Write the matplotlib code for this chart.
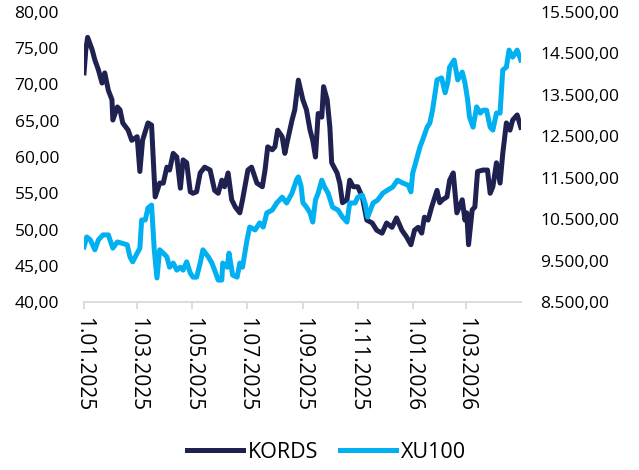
import pandas as pd
import matplotlib.pyplot as plt
from matplotlib.ticker import FuncFormatter, FixedLocator

plt.rcParams['font.family'] = ['Open Sans', 'DejaVu Sans']

start = pd.Timestamp("2025-01-01")

# KORDS (left axis) - days since 1.01.2025 and price
kords_days = [0, 2, 4, 9, 12, 16, 20, 23, 27, 31, 32, 37, 40, 43, 49, 53, 59, 62, 65, 71,
              75, 79, 84, 88, 92, 95, 99, 103, 107, 110, 114, 118, 121, 125, 129, 134, 140,
              145, 149, 153, 156, 160, 164, 168, 173, 176, 182, 186, 192, 198, 201, 204, 209,
              212, 215, 220, 223, 226, 231, 234, 238, 243, 247, 251, 254, 257, 260, 264, 266,
              270, 273, 275, 281, 284, 287, 292, 295, 299, 304, 309, 314, 320, 325, 331, 336,
              342, 347, 353, 358, 363, 367, 371, 375, 378, 382, 386, 392, 395, 398, 403, 406,
              410, 414, 420, 423, 425, 427, 431, 434, 437, 443, 448, 451, 454, 458, 462, 465,
              469, 473, 476, 481, 485]
kords = [71.6, 74.8, 76.5, 74.8, 73.4, 72.0, 70.2, 71.6, 69.2, 67.9, 65.1, 66.9, 66.5, 64.7,
         63.7, 62.3, 62.8, 58.0, 62.3, 64.7, 64.4, 54.5, 56.4, 56.4, 58.6, 58.2, 60.5, 60.0,
         55.7, 59.6, 59.2, 55.2, 55.0, 55.2, 57.8, 58.6, 58.2, 55.4, 55.0, 56.8, 55.9, 57.8,
         54.1, 53.1, 52.3, 54.1, 58.2, 58.6, 56.4, 55.9, 58.2, 61.4, 61.0, 61.4, 63.7, 62.8,
         60.5, 62.3, 65.1, 66.5, 70.6, 67.9, 66.5, 63.7, 62.3, 60.0, 66.0, 65.5, 69.7, 67.9,
         64.1, 59.2, 57.8, 56.4, 53.7, 54.1, 56.8, 55.9, 55.9, 54.5, 51.3, 50.9, 49.9, 49.5,
         50.9, 50.3, 51.6, 49.9, 49.0, 47.9, 49.9, 50.3, 49.5, 51.7, 51.3, 53.1, 55.4, 53.7,
         54.1, 54.5, 56.8, 57.8, 52.3, 54.1, 51.3, 52.3, 47.9, 52.7, 53.1, 58.0, 58.2, 58.2,
         55.0, 55.9, 59.2, 56.4, 60.5, 64.7, 63.7, 65.1, 65.8, 64.1]

# XU100 (right axis)
xu_days = [0, 3, 7, 12, 16, 21, 27, 32, 37, 42, 48, 51, 54, 59, 62, 64, 68, 71, 75, 78, 81,
           84, 88, 92, 95, 99, 103, 107, 110, 114, 118, 121, 125, 129, 132, 138, 142, 145,
           149, 153, 154, 159, 161, 165, 170, 173, 176, 181, 184, 190, 195, 199, 203, 209,
           214, 220, 225, 231, 236, 238, 241, 243, 247, 251, 254, 257, 260, 264, 267, 271,
           276, 282, 287, 292, 295, 301, 304, 309, 312, 315, 321, 326, 332, 337, 343, 348,
           354, 360, 363, 365, 370, 373, 376, 381, 384, 387, 392, 397, 401, 404, 406, 411,
           415, 420, 423, 426, 428, 432, 436, 440, 443, 447, 451, 454, 458, 462, 465, 469,
           472, 476, 481, 485]
xu100 = [9830, 10070, 10000, 9760, 10000, 10120, 10120, 9800, 9950, 9920, 9880, 9590, 9470,
         9680, 9800, 10480, 10480, 10770, 10840, 9760, 9080, 9760, 9680, 9590, 9340, 9440,
         9270, 9340, 9270, 9470, 9200, 9100, 9100, 9440, 9760, 9590, 9440, 9270, 9030, 9030,
         9440, 9340, 9680, 9150, 9100, 9440, 9340, 10000, 10310, 10240, 10410, 10310, 10650,
         10720, 10890, 11030, 10890, 11130, 11450, 11520, 11300, 10900, 10790, 10650, 10430,
         10960, 11130, 11440, 11280, 11130, 10790, 10720, 10550, 10430, 10890, 10890, 11030,
         11080, 10890, 10550, 10890, 10960, 11130, 11200, 11280, 11440, 11370, 11320, 11160,
         11610, 12000, 12240, 12410, 12720, 12820, 13130, 13860, 13910, 13550, 13810, 14170,
         14340, 13860, 14050, 13790, 13380, 12970, 12720, 13210, 13060, 13130, 13130, 12720,
         12650, 13060, 13060, 14100, 14170, 14580, 14410, 14580, 14340]

tick_dates = ["2025-01-01", "2025-03-01", "2025-05-01", "2025-07-01", "2025-09-01",
              "2025-11-01", "2026-01-01", "2026-03-01"]
tick_labels = ["1.01.2025", "1.03.2025", "1.05.2025", "1.07.2025", "1.09.2025",
               "1.11.2025", "1.01.2026", "1.03.2026"]
left_ticks = [40, 45, 50, 55, 60, 65, 70, 75, 80]
right_ticks = [8500, 9500, 10500, 11500, 12500, 13500, 14500, 15500]

kords_dates = start + pd.to_timedelta(kords_days, unit="D")
xu_dates = start + pd.to_timedelta(xu_days, unit="D")

fig = plt.figure(figsize=(6.39, 4.70), dpi=100)
ax = fig.add_axes([0.1315, 0.3574, 0.6835, 0.6171])
ax2 = ax.twinx()

l1, = ax.plot(kords_dates, kords, color="#1f2150", lw=3.6, label="KORDS")
l2, = ax2.plot(xu_dates, xu100, color="#00b0f0", lw=3.6, label="XU100")

ax.set_xlim(start, pd.Timestamp("2026-05-01"))
ax.set_ylim(40, 80)
ax2.set_ylim(8500, 15500)
ax.set_yticks(left_ticks)
ax2.set_yticks(right_ticks)


def tr_fmt(v, pos):
    s = f"{v:,.2f}"
    return s.replace(",", "X").replace(".", ",").replace("X", ".")


ax.yaxis.set_major_formatter(FuncFormatter(tr_fmt))
ax2.yaxis.set_major_formatter(FuncFormatter(tr_fmt))

ax.set_xticks(pd.to_datetime(tick_dates))
ax.set_xticklabels(tick_labels)

for a in (ax, ax2):
    for s in ("top", "left", "right", "bottom"):
        a.spines[s].set_visible(False)
ax.spines["bottom"].set_visible(True)
ax.spines["bottom"].set_color("#d9d9d9")
ax.spines["bottom"].set_linewidth(1.3)

ax.tick_params(axis="y", length=0, pad=18, labelsize=12.5, labelcolor="#000000")
ax2.tick_params(axis="y", length=0, pad=14, labelsize=12.5, labelcolor="#000000")
ax.tick_params(axis="x", length=5, width=1.3, color="#d9d9d9", pad=6, labelsize=15,
               labelrotation=270)
for t in ax.get_xticklabels():
    t.set_va("top")
    t.set_ha("center")

fig.legend([l1, l2], ["KORDS", "XU100"], loc="center", bbox_to_anchor=(0.511, 0.038),
           ncol=2, frameon=False, fontsize=15.5, handlelength=2.6, handletextpad=0.25,
           columnspacing=1.0)

fig.savefig("out.png", dpi=100)
